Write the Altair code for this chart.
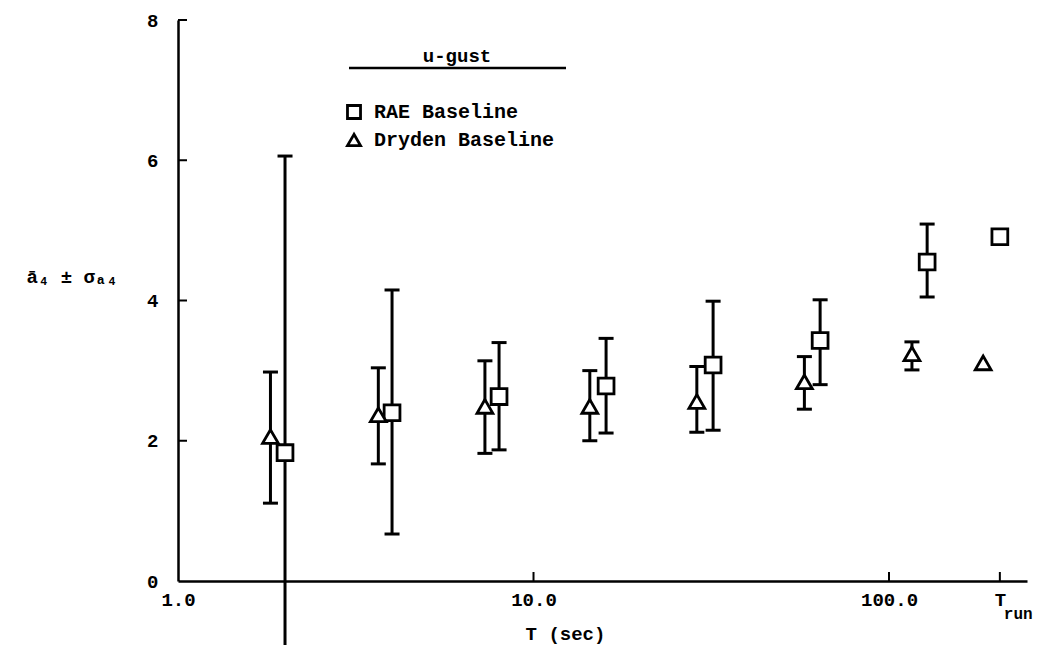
import altair as alt
import pandas as pd

# ---- data ----
T_RUN = 205.0
rae_T = [2, 4, 8, 16, 32, 64, 128, T_RUN]
rae_mean = [1.83, 2.40, 2.63, 2.78, 3.08, 3.43, 4.55, 4.91]
rae_lo = [-2.40, 0.67, 1.87, 2.11, 2.15, 2.80, 4.05, None]
rae_hi = [6.06, 4.15, 3.40, 3.46, 3.99, 4.01, 5.09, None]

dry_T = [1.82, 3.66, 7.3, 14.4, 28.8, 57.8, 116, 184]
dry_mean = [2.06, 2.37, 2.49, 2.49, 2.56, 2.84, 3.24, 3.11]
dry_lo = [1.11, 1.67, 1.82, 2.00, 2.12, 2.45, 3.01, None]
dry_hi = [2.98, 3.04, 3.14, 3.00, 3.06, 3.20, 3.41, None]

series_names = ["RAE Baseline", "Dryden Baseline"]
series_shapes = ["square", "triangle-up"]
x_tick_values = [1, 10, 100, T_RUN]
y_tick_values = [0, 2, 4, 6, 8]
inner_y_ticks = [2, 4, 6, 8]
inner_x_ticks = [10, 100, T_RUN]

FONT = "Liberation Mono"
WEIGHT = "bold"

rows = []
for T, m, lo, hi in zip(rae_T, rae_mean, rae_lo, rae_hi):
    rows.append({"T": T, "mean": m, "lo": lo, "hi": hi, "series": series_names[0]})
for T, m, lo, hi in zip(dry_T, dry_mean, dry_lo, dry_hi):
    rows.append({"T": T, "mean": m, "lo": lo, "hi": hi, "series": series_names[1]})
df = pd.DataFrame(rows)

W, H = 849, 561
xscale = alt.Scale(type="log", domain=[1, 244.4], nice=False)
yscale = alt.Scale(domain=[0, 8], nice=False)

x_axis = alt.Axis(
    values=x_tick_values,
    labelExpr="datum.value == 1 ? '1.0' : datum.value == 10 ? '10.0' : datum.value == 100 ? '100.0' : 'T'",
    ticks=False, tickSize=0, grid=False, labelPadding=9,
    title="T (sec)", titleX=387, titleY=52, titleBaseline="middle", titleAlign="center",
    labelFlush=False,
)
y_axis = alt.Axis(
    values=y_tick_values, format="d",
    ticks=False, tickSize=0, grid=False, labelPadding=20,
    title="ā₄ ± σₐ₄", titleAngle=0, titleX=-152, titleY=256,
    titleAlign="left", titleBaseline="middle",
)

base = alt.Chart(df)

bars = base.transform_filter("isValid(datum.lo)").mark_rule(
    color="black", strokeWidth=3
).encode(
    x=alt.X("T:Q", scale=xscale, axis=x_axis),
    y=alt.Y("lo:Q", scale=yscale, axis=y_axis),
    y2="hi:Q",
)

caps_hi = base.transform_filter("isValid(datum.hi)").mark_tick(
    color="black", orient="horizontal", size=15, thickness=3, opacity=1
).encode(x=alt.X("T:Q", scale=xscale), y=alt.Y("hi:Q", scale=yscale))

caps_lo = base.transform_filter("isValid(datum.lo) && datum.lo >= 0").mark_tick(
    color="black", orient="horizontal", size=15, thickness=3, opacity=1
).encode(x=alt.X("T:Q", scale=xscale), y=alt.Y("lo:Q", scale=yscale))

points = base.mark_point(
    filled=False, fill="white", fillOpacity=1, color="black", strokeWidth=2.8, size=250, opacity=1
).encode(
    x=alt.X("T:Q", scale=xscale),
    y=alt.Y("mean:Q", scale=yscale),
    shape=alt.Shape(
        "series:N",
        scale=alt.Scale(domain=series_names, range=series_shapes),
        legend=None,
    ),
)

# inward axis ticks
yt = alt.Chart(pd.DataFrame({"v": inner_y_ticks})).mark_tick(
    color="black", orient="horizontal", size=9, thickness=2, opacity=1
).encode(y=alt.Y("v:Q", scale=yscale), x=alt.value(4.5))
xt = alt.Chart(pd.DataFrame({"v": inner_x_ticks})).mark_tick(
    color="black", orient="vertical", size=9, thickness=2, opacity=1
).encode(x=alt.X("v:Q", scale=xscale), y=alt.value(H - 4.5))

# "run" subscript of T_run label
run_lbl = alt.Chart(pd.DataFrame({"v": [T_RUN], "y0": [0]})).mark_text(
    text="run", font=FONT, fontSize=16, fontWeight=WEIGHT, align="left", baseline="top",
    dx=4, dy=25, color="black"
).encode(x=alt.X("v:Q", scale=xscale), y=alt.Y("y0:Q", scale=yscale))

# legend (drawn by hand: heading, underline, two entries)
leg_df = pd.DataFrame({"t": ["u-gust"]})
head = alt.Chart(leg_df).mark_text(
    font=FONT, fontSize=19, fontWeight=WEIGHT, color="black", align="center", baseline="middle"
).encode(text="t:N", x=alt.value(279), y=alt.value(36))
head_rule = alt.Chart(leg_df).mark_rule(
    color="black", strokeWidth=2.5
).encode(x=alt.value(171), x2=alt.value(388), y=alt.value(48))

legend_layers = []
for name, shp, ypix in zip(series_names, series_shapes, [92, 120]):
    one = pd.DataFrame({"series": [name]})
    legend_layers.append(
        alt.Chart(one).mark_point(
            filled=False, fill="white", fillOpacity=1, color="black",
            strokeWidth=2.8, size=170, opacity=1, shape=shp
        ).encode(x=alt.value(176), y=alt.value(ypix))
    )
    legend_layers.append(
        alt.Chart(one).mark_text(
            font=FONT, fontSize=20, fontWeight=WEIGHT, color="black",
            align="left", baseline="middle"
        ).encode(text="series:N", x=alt.value(196), y=alt.value(ypix))
    )

chart = alt.layer(
    bars, caps_hi, caps_lo, points, yt, xt, run_lbl, head, head_rule, *legend_layers
).properties(
    width=W, height=H,
    padding={"left": 170, "top": 12, "right": 8, "bottom": 64},
    autosize=alt.AutoSizeParams(type="none"),
    background="white",
).configure_view(stroke=None).configure_axis(
    domainColor="black", domainWidth=2.5,
    labelFont=FONT, labelFontSize=19, labelFontWeight=WEIGHT, labelColor="black",
    titleFont=FONT, titleFontSize=19, titleColor="black", titleFontWeight=WEIGHT,
)

chart.save("out.html", embed_options={"renderer": "svg", "actions": False})
